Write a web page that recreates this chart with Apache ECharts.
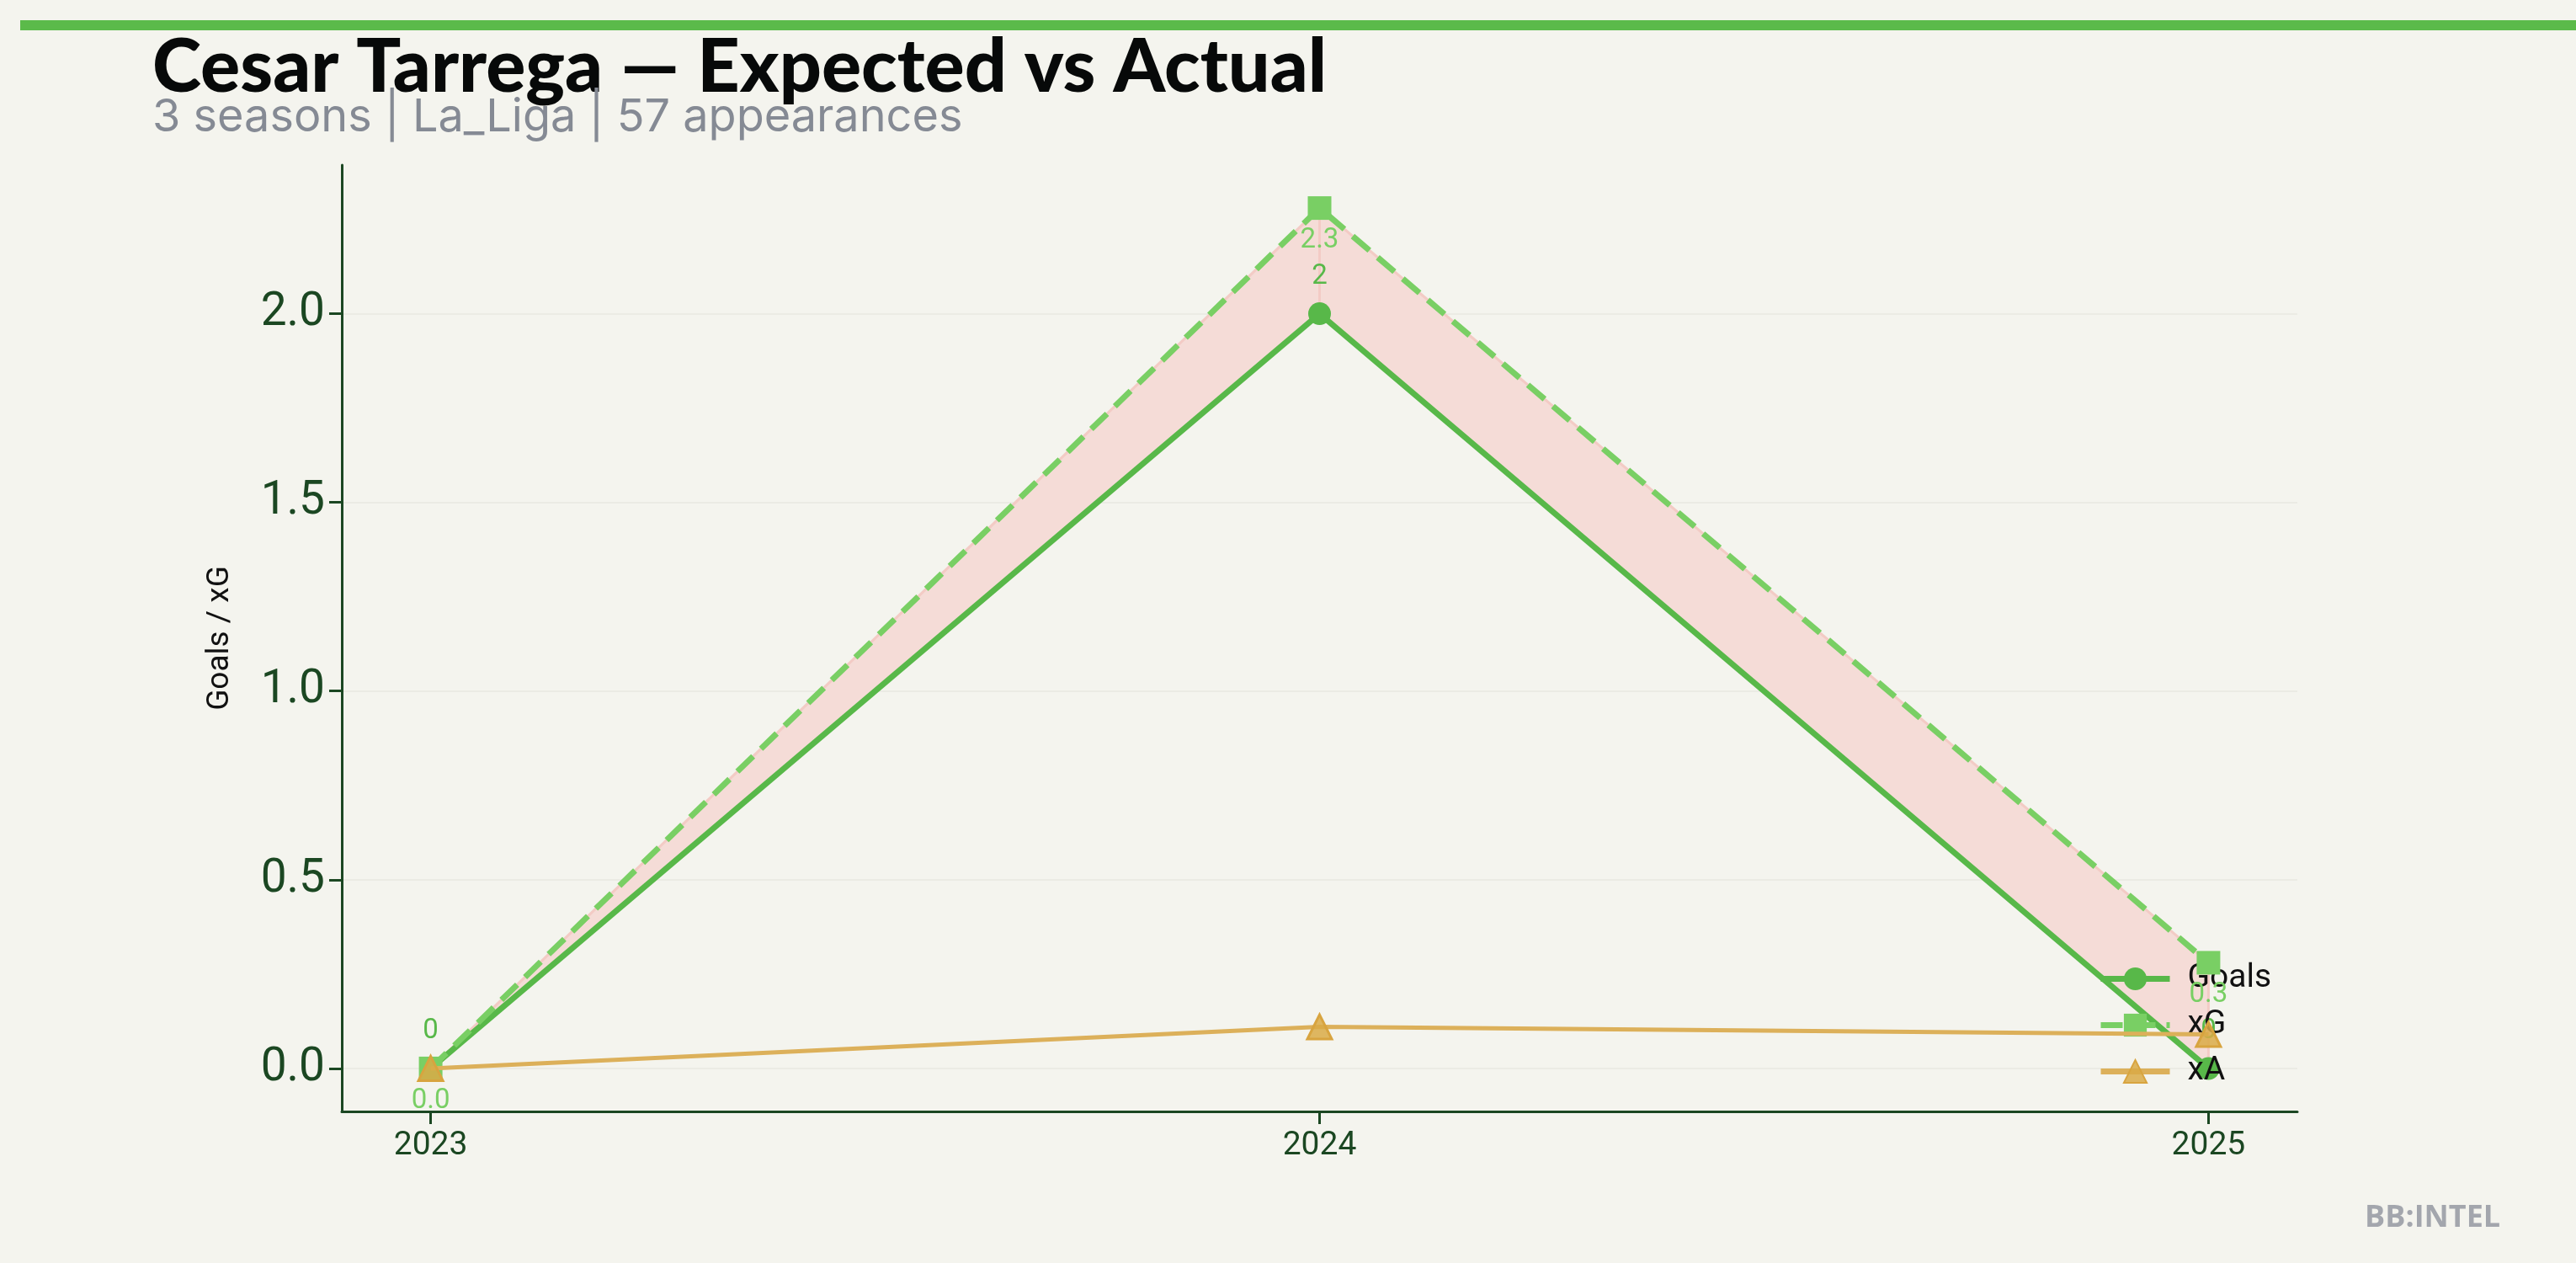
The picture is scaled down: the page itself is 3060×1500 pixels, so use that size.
<!DOCTYPE html>
<html><head><meta charset="utf-8">
<script src="https://cdn.jsdelivr.net/npm/echarts@6/dist/echarts.min.js"></script>
<style>html,body{margin:0;padding:0;background:#f4f4ee;}#c{width:3060px;height:1500px;}</style>
</head><body><div id="c"></div>
<script>
const seasons = [2023, 2024, 2025];
const goals = [0, 2, 0];
const xG = [0.0, 2.28, 0.28];
const xA = [0.0, 0.11, 0.09];
const yTicks = [0, 0.5, 1.0, 1.5, 2.0];
const titleText = 'Cesar Tarrega \u2014 Expected vs Actual';
const subText = '3 seasons | La_Liga | 57 appearances';

const pts = a => seasons.map((s, i) => [s, a[i]]);

const chart = echarts.init(document.getElementById('c'), null, {renderer: 'canvas'});
const axisColor = '#1b4722';
chart.setOption({
  backgroundColor: '#f4f4ee',
  animation: false,
  graphic: [
    {type: 'rect', shape: {x: 24, y: 24, width: 3036, height: 12}, style: {fill: '#5bba4a'}},
    {type: 'text', left: 2809, top: 1429, style: {text: 'BB:INTEL', fill: '#a3a6ad', font: '700 36px "Open Sans"'}}
  ],
  title: [
    {text: titleText, left: 176, top: 32, textStyle: {fontFamily: 'Lato', fontWeight: 900, fontSize: 88, color: '#070909'}},
    {text: subText, left: 176, top: 108, textStyle: {fontFamily: 'Inter', fontWeight: 400, fontSize: 54, color: '#858a94'}}
  ],
  grid: {left: 406, right: 331, top: 196, bottom: 180, containLabel: false},
  legend: {
    orient: 'vertical', left: 2487, top: 1138, itemWidth: 82, itemHeight: 34, itemGap: 16,
    lineStyle: {width: 7},
    formatter: n => '{s|}' + n,
    textStyle: {fontFamily: 'Roboto', fontSize: 39, color: '#111', rich: {s: {width: 16}}},
    data: ['Goals', 'xG', 'xA']
  },
  xAxis: {
    type: 'value', min: 2022.9, max: 2025.1,
    axisLine: {show: true, onZero: false, lineStyle: {color: axisColor, width: 3}},
    axisTick: {show: true, customValues: seasons, length: 15, lineStyle: {color: axisColor, width: 3}},
    axisLabel: {customValues: seasons, formatter: v => String(v), fontFamily: 'Roboto', fontSize: 39, color: axisColor, margin: 22},
    splitLine: {show: false}
  },
  yAxis: {
    type: 'value', min: -0.114, max: 2.394,
    name: 'Goals / xG', nameLocation: 'middle', nameGap: 126,
    nameTextStyle: {fontFamily: 'Roboto', fontSize: 37, color: '#111'},
    axisLine: {show: true, onZero: false, lineStyle: {color: axisColor, width: 3}},
    axisTick: {show: true, customValues: yTicks, length: 15, lineStyle: {color: axisColor, width: 3}},
    axisLabel: {customValues: yTicks, formatter: v => v.toFixed(1), fontFamily: 'Roboto', fontSize: 55, color: axisColor, margin: 20},
    splitLine: {show: true, lineStyle: {color: '#ebebe4', width: 2}}
  },
  series: [
    {name: 'band', type: 'custom', silent: true, z: 1,
      data: seasons.map((s, i) => [s, goals[i], xG[i]]),
      encode: {x: 0, y: [1, 2]},
      renderItem: (params, api) => {
        const i = params.dataIndex;
        if (i >= seasons.length - 1) return null;
        const p = [
          api.coord([seasons[i], goals[i]]),
          api.coord([seasons[i + 1], goals[i + 1]]),
          api.coord([seasons[i + 1], xG[i + 1]]),
          api.coord([seasons[i], xG[i]])
        ];
        return {type: 'polygon', shape: {points: p}, style: {fill: '#f5dcd7', stroke: '#f3cbc5', lineWidth: 3}};
      }
    },
    {name: 'Goals', type: 'line', data: pts(goals), symbol: 'circle', symbolSize: 27,
      itemStyle: {color: '#58b849'}, lineStyle: {color: '#58b849', width: 7}, z: 3,
      label: {show: true, position: 'top', distance: 14, formatter: p => String(p.value[1]), fontFamily: 'Roboto', fontSize: 33, color: '#58b849'}},
    {name: 'xG', type: 'line', data: pts(xG), symbol: 'rect', symbolSize: 28,
      itemStyle: {color: '#79cf64'}, lineStyle: {color: '#79cf64', width: 7, type: [26, 13]}, z: 4,
      label: {show: true, position: 'bottom', distance: 8, formatter: p => p.value[1].toFixed(1), fontFamily: 'Roboto', fontSize: 33, color: '#79cf64'}},
    {name: 'xA', type: 'line', data: pts(xA), symbol: 'triangle', symbolSize: 29,
      itemStyle: {color: 'rgba(217,170,70,0.85)', borderColor: '#d8a43f', borderWidth: 3},
      lineStyle: {color: '#dcb05a', width: 5}, z: 5}
  ]
});
</script></body></html>
